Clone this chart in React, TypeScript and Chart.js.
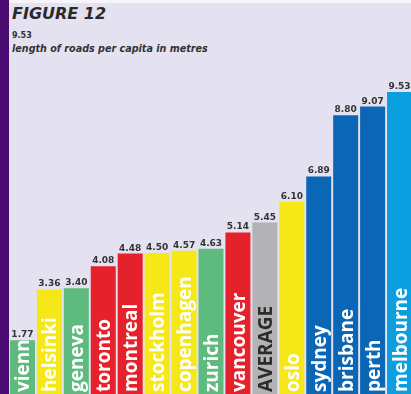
import React, { useEffect, useRef } from "react";
import { Chart, registerables } from "chart.js";

Chart.register(...registerables);

const cities = ["vienna", "helsinki", "geneva", "toronto", "montreal", "stockholm", "copenhagen", "zurich", "vancouver", "AVERAGE", "oslo", "sydney", "brisbane", "perth", "melbourne"];
const roadLength = [1.77, 3.36, 3.4, 4.08, 4.48, 4.5, 4.57, 4.63, 5.14, 5.45, 6.1, 6.89, 8.8, 9.07, 9.53];
const valueLabels = ["1.77", "3.36", "3.40", "4.08", "4.48", "4.50", "4.57", "4.63", "5.14", "5.45", "6.10", "6.89", "8.80", "9.07", "9.53"];
const GREEN = "#5fba7f";
const YELLOW = "#f6e816";
const RED = "#e5222c";
const GREY = "#b3b3b6";
const DBLUE = "#0b66b5";
const LBLUE = "#0b9fe0";
const barColors = [GREEN, YELLOW, GREEN, RED, RED, YELLOW, YELLOW, GREEN, RED, GREY, YELLOW, DBLUE, DBLUE, DBLUE, LBLUE];

const labelPlugin = {
  id: "barLabels",
  afterDatasetsDraw(chart: any) {
    const ctx = chart.ctx;
    const meta = chart.getDatasetMeta(0);
    meta.data.forEach((bar: any, i: number) => {
      const { x, y, base, width } = bar.getProps(["x", "y", "base", "width"], true);
      ctx.save();
      ctx.font = "bold 9px 'DejaVu Sans'";
      ctx.fillStyle = "#333333";
      ctx.textAlign = "center";
      ctx.textBaseline = "alphabetic";
      ctx.fillText(valueLabels[i], x, y - 3);
      ctx.restore();
      ctx.save();
      ctx.beginPath();
      ctx.rect(x - width / 2, y, width, base - y);
      ctx.clip();
      ctx.translate(x + 7, 392);
      ctx.rotate(-Math.PI / 2);
      ctx.font = "bold 19px 'Open Sans'";
      ctx.fillStyle = cities[i] === "AVERAGE" ? "#2b2b2b" : "#ffffff";
      ctx.textAlign = "left";
      ctx.textBaseline = "alphabetic";
      ctx.fillText(cities[i], 0, 0);
      ctx.restore();
    });
  },
};

export default function App() {
  const ref = useRef<HTMLCanvasElement>(null);
  useEffect(() => {
    document.body.style.margin = "0";
    const chart = new Chart(ref.current!, {
      type: "bar",
      data: {
        labels: cities,
        datasets: [
          {
            data: roadLength,
            backgroundColor: barColors,
            borderWidth: 0,
            barPercentage: 0.928,
            categoryPercentage: 1,
          },
        ],
      },
      options: {
        responsive: false,
        animation: false,
        devicePixelRatio: 1,
        layout: { padding: { left: 9, right: 0, top: 0, bottom: 0 } },
        plugins: { legend: { display: false }, tooltip: { enabled: false }, title: { display: false } },
        scales: {
          x: { display: false },
          y: { display: false, min: 0, max: 12.4 },
        },
      },
      plugins: [labelPlugin],
    });
    return () => chart.destroy();
  }, []);
  return (
    <div style={{ position: "fixed", left: 0, top: 0, width: 411, height: 394, overflow: "hidden", background: "#e4e2f0" }}>
      <div style={{ position: "absolute", left: 0, top: 0, width: 411, height: 3, background: "#f6f5fa" }} />
      <div style={{ position: "absolute", left: 0, top: 0, width: 9, height: 394, background: "#4a0b70" }} />
      <div style={{ position: "absolute", left: 12, top: 4, fontFamily: "'DejaVu Sans'", fontWeight: "bold", fontStyle: "italic", fontSize: 16, color: "#2a2a2a", lineHeight: "20px", whiteSpace: "nowrap" }}>FIGURE 12</div>
      <div style={{ position: "absolute", left: 12, top: 31, fontFamily: "'DejaVu Sans'", fontWeight: "bold", fontSize: 8, color: "#333", lineHeight: "10px", whiteSpace: "nowrap" }}>9.53</div>
      <div style={{ position: "absolute", left: 12, top: 43, fontFamily: "'DejaVu Sans'", fontWeight: "bold", fontStyle: "italic", fontSize: 9.6, color: "#333", lineHeight: "12px", whiteSpace: "nowrap" }}>length of roads per capita in metres</div>
      <canvas ref={ref} width={413} height={397} style={{ position: "absolute", left: 0, top: 0, width: 413, height: 397 }} />
    </div>
  );
}
